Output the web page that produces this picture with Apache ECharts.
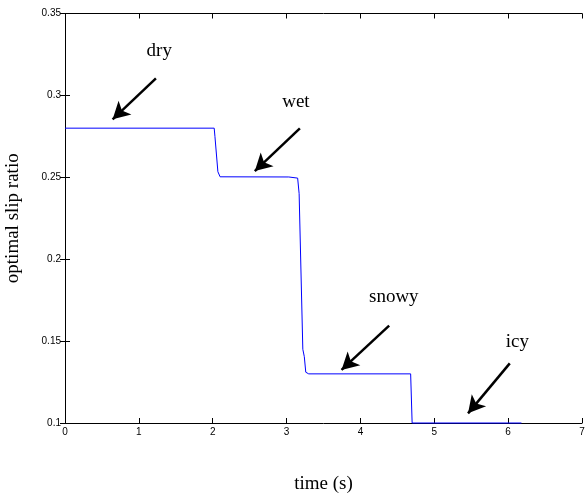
<!DOCTYPE html>
<html>
<head>
<meta charset="utf-8">
<script src="https://cdn.jsdelivr.net/npm/echarts@6/dist/echarts.min.js"></script>
<style>html,body{margin:0;padding:0;background:#fff}#c{width:585px;height:493px}</style>
</head>
<body>
<div id="c"></div>
<script>
// time (s)
var timeValues = [0, 2.02, 2.03, 2.07, 2.10, 3.03, 3.05, 3.15, 3.17, 3.22, 3.24, 3.26, 3.30, 4.68, 4.70, 6.18];
// optimal slip ratio
var slipValues = [0.28, 0.28, 0.275, 0.2534, 0.2503, 0.2502, 0.2495, 0.2495, 0.24, 0.145, 0.1405, 0.131, 0.13, 0.13, 0.1, 0.1];
var xTicks = [0, 1, 2, 3, 4, 5, 6, 7];
var yTicks = [0.1, 0.15, 0.2, 0.25, 0.3, 0.35];
// annotations: label, label position, arrow tail, arrow head (data units)
var annLabels = ['dry', 'wet', 'snowy', 'icy'];
var annTextPos = [[1.276, 0.3273], [3.126, 0.296], [4.452, 0.1767], [6.126, 0.1496]];
var annTail = [[1.231, 0.3104], [3.18, 0.2799], [4.389, 0.1594], [6.022, 0.1364]];
var annHead = [[0.645, 0.2854], [2.57, 0.2538], [3.744, 0.1324], [5.457, 0.1059]];

var lineData = timeValues.map(function (t, i) { return [t, slipValues[i]]; });
var arrows = annTail.map(function (t, i) {
  return [{ coord: t, symbol: 'none' }, { coord: annHead[i], symbol: 'arrow', symbolSize: [14, 17] }];
});
var texts = annLabels.map(function (s, i) {
  return { name: s, coord: annTextPos[i], value: s };
});

var chart = echarts.init(document.getElementById('c'), null, { renderer: 'canvas' });
var tickFont = { fontFamily: 'Liberation Sans', fontSize: 10, color: '#000' };
var serif = { fontFamily: 'Liberation Serif', fontSize: 19, color: '#000' };
chart.setOption({
  backgroundColor: '#fff',
  animation: false,
  grid: { left: 65, right: 3, top: 13.5, bottom: 70, show: false, containLabel: false, outerBoundsMode: 'none' },
  xAxis: [{
    type: 'value', min: 0, max: 7, interval: 1,
    name: 'time (s)', nameLocation: 'middle', nameGap: 52,
    nameTextStyle: serif,
    axisLine: { lineStyle: { color: '#000', width: 1 } },
    axisTick: { inside: true, length: 5, lineStyle: { color: '#000' } },
    axisLabel: Object.assign({ margin: 4, formatter: function (v) { return String(v); } }, tickFont),
    splitLine: { show: false }
  }, {
    type: 'value', min: 0, max: 7, interval: 1, position: 'top',
    axisLine: { lineStyle: { color: '#000', width: 1 } },
    axisTick: { inside: true, length: 5, lineStyle: { color: '#000' } },
    axisLabel: { show: false }, splitLine: { show: false }
  }],
  yAxis: [{
    type: 'value', min: 0.1, max: 0.35, interval: 0.05,
    name: 'optimal slip ratio', nameLocation: 'middle', nameGap: 42,
    nameTextStyle: serif,
    axisLine: { lineStyle: { color: '#000', width: 1 } },
    axisTick: { inside: true, length: 5, lineStyle: { color: '#000' } },
    axisLabel: Object.assign({ margin: 4, formatter: function (v) { return String(+v.toFixed(2)); } }, tickFont),
    splitLine: { show: false }
  }, {
    type: 'value', min: 0.1, max: 0.35, interval: 0.05, position: 'right',
    axisLine: { lineStyle: { color: '#000', width: 1 } },
    axisTick: { inside: true, length: 5, lineStyle: { color: '#000' } },
    axisLabel: { show: false }, splitLine: { show: false }
  }],
  series: [{
    type: 'line', data: lineData, showSymbol: false, symbol: 'none',
    lineStyle: { color: '#0000ff', width: 1 }, clip: false,
    markLine: {
      silent: true, animation: false,
      lineStyle: { color: '#000', width: 2.5, type: 'solid' },
      label: { show: false },
      data: arrows
    },
    markPoint: {
      silent: true, animation: false,
      symbol: 'circle', symbolSize: 1, itemStyle: { color: 'rgba(0,0,0,0)' },
      label: Object.assign({ show: true, position: 'inside', formatter: '{b}' }, serif),
      data: texts
    }
  }]
});
</script>
</body>
</html>
